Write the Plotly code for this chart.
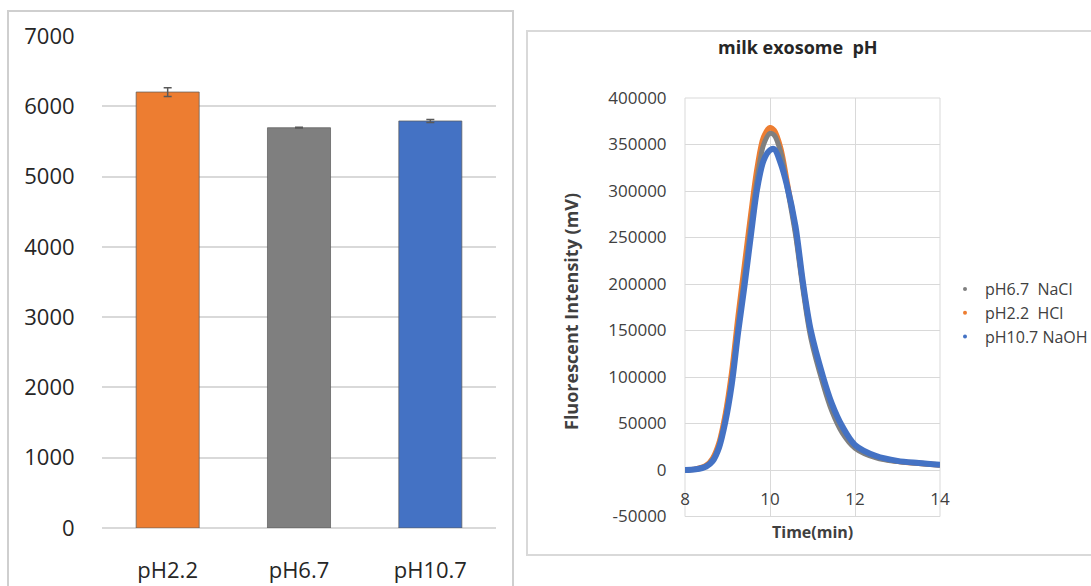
import plotly.graph_objects as go

W, H = 1091, 586

# ---- Left panel data (bar chart) ----
bar_categories = ["pH2.2", "pH6.7", "pH10.7"]
bar_values = [6203, 5695, 5791]
bar_errors = [62, 5, 20]
bar_colors = ["#ED7D31", "#7F7F7F", "#4472C4"]
bar_ticks = [0, 1000, 2000, 3000, 4000, 5000, 6000, 7000]

# ---- Right panel data (chromatogram) ----
time_min = [8.0, 8.25, 8.5, 8.65, 8.8, 8.95, 9.1, 9.25, 9.4, 9.55, 9.7, 9.85,
            10.0, 10.1, 10.25, 10.4, 10.6, 10.78, 10.96, 11.25, 11.45, 11.7,
            12.0, 12.5, 13.0, 13.5, 14.0]
ph67_nacl = [0, 900, 4300, 11000, 26000, 55000, 97000, 155000, 208000, 263000, 314000, 350000,
             362000, 360000, 342000, 305000, 253000, 193000, 142000, 92000, 64000, 40000,
             23500, 13000, 9000, 7000, 5300]
ph22_hcl = [0, 1000, 5000, 12500, 29000, 60000, 105000, 165000, 220000, 275000, 325000, 358000,
            368000, 365000, 346000, 310000, 258000, 198000, 147000, 97000, 69000, 44000,
            25500, 14000, 9300, 7200, 5400]
ph107_naoh = [0, 800, 3800, 9500, 24000, 52000, 92000, 148000, 198000, 252000, 303000, 333000,
              344000, 345000, 330000, 306000, 262000, 200000, 150000, 100000, 72000, 47000,
              27000, 15000, 9800, 7500, 5600]
line_names = ["pH6.7\u00a0 NaCl", "pH2.2\u00a0 HCl", "pH10.7 NaOH"]
line_colors = ["#7F7F7F", "#ED7D31", "#4472C4"]
line_widths = [5, 5.5, 6]
y2_ticks = [-50000, 0, 50000, 100000, 150000, 200000, 250000, 300000, 350000, 400000]
y2_ticktext = ["-50000", "0", "50000", "100000", "150000", "200000", "250000",
               "300000", "350000", "400000"]
x2_ticks = [8, 10, 12, 14]

FONT = "Open Sans"
GRID = "#D9D9D9"


def px_x(p):
    return p / W


def px_y(p):
    return 1 - p / H


fig = go.Figure()

# bars
fig.add_trace(go.Bar(
    x=bar_categories, y=bar_values,
    marker=dict(color=bar_colors, line=dict(color="rgba(90,90,90,0.7)", width=1)),
    error_y=dict(type="data", array=bar_errors, color="#595959", thickness=1.5, width=4),
    width=0.48, showlegend=False, xaxis="x", yaxis="y",
))

# lines (draw orange, gray, blue so blue is on top)
series = [ph67_nacl, ph22_hcl, ph107_naoh]
for idx in [1, 0, 2]:
    fig.add_trace(go.Scatter(
        x=time_min, y=series[idx], mode="lines",
        line=dict(color=line_colors[idx], width=line_widths[idx], shape="spline", smoothing=0.9),
        showlegend=False, xaxis="x2", yaxis="y2",
    ))

# legend entries (dots, like the original markers)
for i in range(3):
    fig.add_trace(go.Scatter(
        x=[None], y=[None], mode="markers", name=line_names[i],
        marker=dict(color=line_colors[i], size=4),
        legendgroup=f"g{i}", legendrank=i + 1,
        xaxis="x2", yaxis="y2",
    ))

fig.update_layout(
    width=W, height=H,
    margin=dict(l=0, r=0, t=0, b=0, autoexpand=False),
    paper_bgcolor="white", plot_bgcolor="white",
    font=dict(family=FONT, color="#333333"),
    bargap=0.52,
    xaxis=dict(
        domain=[px_x(102), px_x(496)], anchor="y",
        showgrid=False, showline=False, zeroline=False,
        ticks="outside", ticklen=23, tickcolor="rgba(0,0,0,0)",
        tickfont=dict(size=22, color="#262626", family=FONT),
    ),
    yaxis=dict(
        domain=[px_y(528), px_y(36)], anchor="x",
        range=[0, 7000], tickvals=bar_ticks,
        showgrid=True, gridcolor=GRID, gridwidth=1.5,
        zeroline=True, zerolinecolor=GRID, zerolinewidth=1.5,
        showline=False,
        ticks="outside", ticklen=22, tickcolor="rgba(0,0,0,0)",
        tickfont=dict(size=22, color="#262626", family=FONT),
    ),
    xaxis2=dict(
        domain=[px_x(685), px_x(940)], anchor="free", position=px_y(470),
        range=[8, 14], tickvals=x2_ticks,
        showgrid=True, gridcolor=GRID, gridwidth=1,
        zeroline=False, showline=False,
        ticks="outside", ticklen=14, tickcolor="rgba(0,0,0,0)",
        tickfont=dict(size=17, color="#404040", family=FONT),
    ),
    yaxis2=dict(
        domain=[px_y(516.5), px_y(98)], anchor="x2",
        range=[-50000, 400000], tickvals=y2_ticks, ticktext=y2_ticktext,
        showgrid=True, gridcolor=GRID, gridwidth=1,
        zeroline=True, zerolinecolor=GRID, zerolinewidth=1,
        showline=False,
        ticks="outside", ticklen=14, tickcolor="rgba(0,0,0,0)",
        tickfont=dict(size=17, color="#404040", family=FONT),
    ),
    legend=dict(
        x=px_x(945), y=px_y(272), xanchor="left", yanchor="top",
        font=dict(size=16, color="#404040", family=FONT),
        tracegroupgap=0, bgcolor="rgba(0,0,0,0)", itemwidth=30,
    ),
    shapes=[
        # left panel frame
        dict(type="rect", xref="paper", yref="paper",
             x0=px_x(8), x1=px_x(513), y0=-0.05, y1=px_y(11),
             line=dict(color="#CFCFCF", width=2), layer="below"),
        # right panel frame
        dict(type="rect", xref="paper", yref="paper",
             x0=px_x(527), x1=1.05, y0=px_y(555), y1=px_y(31),
             line=dict(color="#D9D9D9", width=2), layer="below"),
        # right plot area border
        dict(type="rect", xref="paper", yref="paper",
             x0=px_x(685), x1=px_x(940), y0=px_y(516.5), y1=px_y(98),
             line=dict(color=GRID, width=1), layer="below"),
    ],
    annotations=[
        dict(text="<b>milk exosome\u00a0 pH</b>", xref="paper", yref="paper",
             x=px_x(798), y=px_y(47), xanchor="center", yanchor="middle",
             showarrow=False, font=dict(size=18, color="#262626", family=FONT)),
        dict(text="<b>Time(min)</b>", xref="paper", yref="paper",
             x=px_x(812), y=px_y(532), xanchor="center", yanchor="middle",
             showarrow=False, font=dict(size=16, color="#404040", family=FONT)),
        dict(text="<b>Fluorescent Intensity (mV)</b>", xref="paper", yref="paper",
             x=px_x(571), y=px_y(312), xanchor="center", yanchor="middle",
             textangle=-90, showarrow=False,
             font=dict(size=18, color="#404040", family=FONT)),
    ],
)

fig.write_html("out.html")
